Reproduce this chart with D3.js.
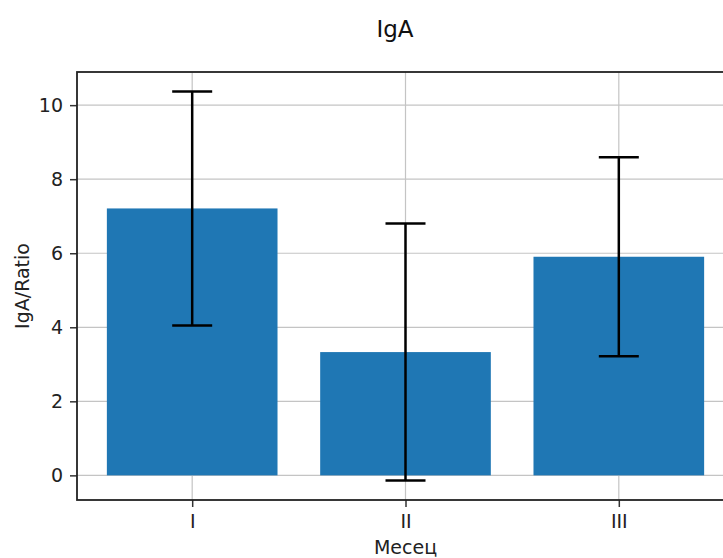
<!DOCTYPE html>
<html>
<head>
<meta charset="utf-8">
<script src="https://cdn.jsdelivr.net/npm/d3@7"></script>
<style>
  body { margin: 0; background: #fff; }
  svg { font-family: "DejaVu Sans", sans-serif; display: block; }
</style>
</head>
<body>
<div id="chart"></div>
<script>
// values
var months = ["I", "II", "III"];
var means = [7.21, 3.33, 5.905];
var errors = [3.16, 3.47, 2.69];
var yTicks = [0, 2, 4, 6, 8, 10];

var width = 723, height = 558;
var margin = { top: 72, right: -11, bottom: 58, left: 77 };
var innerW = width - margin.left - margin.right;
var innerH = height - margin.top - margin.bottom;

var svg = d3.select("#chart").append("svg")
  .attr("width", width)
  .attr("height", height);

var g = svg.append("g")
  .attr("transform", "translate(" + margin.left + "," + margin.top + ")");

// matplotlib-like limits with 5% margins
var lo = d3.min(means, function(d, i) { return d - errors[i]; });
var hi = d3.max(means, function(d, i) { return d + errors[i]; });
var pad = (hi - lo) * 0.05;

var y = d3.scaleLinear()
  .domain([lo - pad, hi + pad])
  .range([innerH, 0]);

var x = d3.scaleLinear()
  .domain([-0.4 - 0.14, months.length - 1 + 0.4 + 0.14])
  .range([0, innerW]);

var barW = x(0.8) - x(0);

// grid
g.selectAll(".hgrid").data(yTicks).enter().append("line")
  .attr("x1", 0).attr("x2", innerW)
  .attr("y1", function(d) { return y(d); })
  .attr("y2", function(d) { return y(d); })
  .attr("stroke", "#c4c4c4").attr("stroke-width", 1.2);

g.selectAll(".vgrid").data(months).enter().append("line")
  .attr("y1", 0).attr("y2", innerH)
  .attr("x1", function(d, i) { return x(i); })
  .attr("x2", function(d, i) { return x(i); })
  .attr("stroke", "#c4c4c4").attr("stroke-width", 1.2);

// bars
g.selectAll(".bar").data(means).enter().append("rect")
  .attr("class", "bar")
  .attr("x", function(d, i) { return x(i) - barW / 2; })
  .attr("width", barW)
  .attr("y", function(d) { return y(d); })
  .attr("height", function(d) { return y(0) - y(d); })
  .attr("fill", "#1f77b4");

// error bars
var cap = 20;
var eb = g.selectAll(".err").data(means).enter().append("g");
eb.append("line")
  .attr("x1", function(d, i) { return x(i); })
  .attr("x2", function(d, i) { return x(i); })
  .attr("y1", function(d, i) { return y(d - errors[i]); })
  .attr("y2", function(d, i) { return y(d + errors[i]); })
  .attr("stroke", "#000").attr("stroke-width", 2.5);
eb.append("line")
  .attr("x1", function(d, i) { return x(i) - cap; })
  .attr("x2", function(d, i) { return x(i) + cap; })
  .attr("y1", function(d, i) { return y(d + errors[i]); })
  .attr("y2", function(d, i) { return y(d + errors[i]); })
  .attr("stroke", "#000").attr("stroke-width", 2.5);
eb.append("line")
  .attr("x1", function(d, i) { return x(i) - cap; })
  .attr("x2", function(d, i) { return x(i) + cap; })
  .attr("y1", function(d, i) { return y(d - errors[i]); })
  .attr("y2", function(d, i) { return y(d - errors[i]); })
  .attr("stroke", "#000").attr("stroke-width", 2.5);

// axes
var yAxis = d3.axisLeft(y).tickValues(yTicks).tickSize(7).tickPadding(7);
var xAxis = d3.axisBottom(x).tickValues(d3.range(months.length))
  .tickFormat(function(i) { return months[i]; })
  .tickSize(7).tickPadding(8);

var ya = g.append("g").call(yAxis);
var xa = g.append("g").attr("transform", "translate(0," + innerH + ")").call(xAxis);
[ya, xa].forEach(function(a) {
  a.select(".domain").remove();
  a.selectAll(".tick line").attr("stroke", "#333").attr("stroke-width", 1.5);
  a.selectAll(".tick text").attr("fill", "#222").style("font-size", "19px")
    .style("font-family", "DejaVu Sans");
});

// spines
g.append("rect")
  .attr("x", 0).attr("y", 0)
  .attr("width", innerW).attr("height", innerH)
  .attr("fill", "none").attr("stroke", "#222").attr("stroke-width", 1.8);

// labels
svg.append("text")
  .attr("x", 395).attr("y", 37)
  .attr("text-anchor", "middle")
  .style("font-size", "23px").attr("fill", "#111")
  .text("IgA");

svg.append("text")
  .attr("x", margin.left + x(1)).attr("y", 554)
  .attr("text-anchor", "middle")
  .style("font-size", "19px").attr("fill", "#222")
  .text("Месец");

svg.append("text")
  .attr("transform", "translate(29," + (margin.top + innerH / 2) + ") rotate(-90)")
  .attr("text-anchor", "middle")
  .style("font-size", "19px").attr("fill", "#222")
  .text("IgA/Ratio");
</script>
</body>
</html>
